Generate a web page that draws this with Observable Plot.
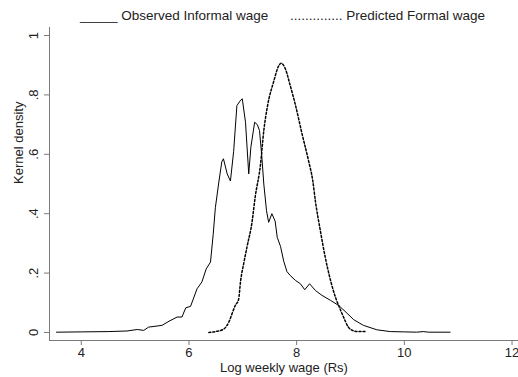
<!DOCTYPE html>
<html>
<head>
<meta charset="utf-8">
<script src="https://cdn.jsdelivr.net/npm/d3@7"></script>
<script src="https://cdn.jsdelivr.net/npm/@observablehq/plot@0.6"></script>
<style>
  html, body { margin: 0; padding: 0; background: #fff; }
  #wrap { width: 518px; height: 377px; position: relative; font-family: "Liberation Sans", Arial, sans-serif; }
  #legend { position: relative; height: 26px; font-size: 13.5px; color: #222; }
  #legend span { position: absolute; top: 8px; line-height: 15px; white-space: pre; }
</style>
</head>
<body>
<div id="wrap">
  <div id="legend">
    <span style="left:80px">_____ Observed Informal wage</span>
    <span style="left:290px">.............. Predicted Formal wage</span>
  </div>
  <div id="chart"></div>
</div>
<script>
// Observed Informal wage (solid)
const informalX = [3.54, 4.0, 4.5, 4.85, 5.04, 5.16, 5.25, 5.50, 5.63, 5.78, 5.87, 5.94, 6.03, 6.15, 6.24, 6.32, 6.40, 6.45, 6.49, 6.55, 6.61, 6.64, 6.71, 6.77, 6.83, 6.89, 6.95, 6.99, 7.05, 7.11, 7.15, 7.22, 7.27, 7.31, 7.35, 7.39, 7.44, 7.48, 7.54, 7.60, 7.64, 7.70, 7.76, 7.82, 7.88, 7.98, 8.07, 8.15, 8.24, 8.35, 8.47, 8.63, 8.78, 8.90, 9.06, 9.24, 9.49, 9.74, 10.0, 10.23, 10.35, 10.45, 10.85];
const informalY = [0.001, 0.002, 0.003, 0.005, 0.010, 0.007, 0.018, 0.024, 0.038, 0.052, 0.052, 0.083, 0.088, 0.147, 0.170, 0.214, 0.237, 0.330, 0.420, 0.500, 0.575, 0.585, 0.534, 0.510, 0.610, 0.764, 0.780, 0.787, 0.708, 0.534, 0.624, 0.708, 0.700, 0.680, 0.600, 0.500, 0.410, 0.371, 0.400, 0.375, 0.320, 0.290, 0.240, 0.205, 0.192, 0.175, 0.164, 0.144, 0.164, 0.141, 0.125, 0.108, 0.091, 0.071, 0.043, 0.024, 0.009, 0.003, 0.002, 0.001, 0.003, 0.001, 0.001];

// Predicted Formal wage (dotted)
const formalX = [6.37, 6.52, 6.65, 6.74, 6.80, 6.86, 6.92, 6.96, 7.02, 7.08, 7.17, 7.23, 7.33, 7.39, 7.46, 7.57, 7.67, 7.71, 7.79, 7.88, 7.98, 8.10, 8.22, 8.30, 8.35, 8.44, 8.53, 8.63, 8.72, 8.78, 8.87, 8.96, 9.05, 9.12, 9.27];
const formalY = [0.000, 0.004, 0.012, 0.035, 0.063, 0.091, 0.110, 0.175, 0.235, 0.290, 0.370, 0.456, 0.568, 0.680, 0.764, 0.843, 0.899, 0.907, 0.888, 0.832, 0.764, 0.669, 0.579, 0.510, 0.440, 0.343, 0.254, 0.175, 0.119, 0.091, 0.052, 0.018, 0.006, 0.003, 0.003];

const xTicks = [4, 6, 8, 10, 12];
const yTicks = [0, 0.2, 0.4, 0.6, 0.8, 1];
const yTickLabels = ["0", ".2", ".4", ".6", ".8", "1"];

const informal = informalX.map((x, i) => ({x, y: informalY[i]}));
const formal = formalX.map((x, i) => ({x, y: formalY[i]}));

const axisColor = "#7a7a7a";
const textColor = "#222";

const chart = Plot.plot({
  width: 518,
  height: 351,
  marginTop: 1,
  marginLeft: 49,
  marginRight: 0,
  marginBottom: 37,
  style: {fontFamily: "'Liberation Sans', Arial, sans-serif", fontSize: "13px", color: textColor, background: "#fff"},
  x: {domain: [3.41, 12.12]},
  y: {domain: [-0.027, 1.027]},
  marks: [
    Plot.axisX({ticks: xTicks, tickSize: 5, tickPadding: 2, stroke: axisColor, fill: textColor, label: null, fontSize: 13}),
    Plot.axisY({ticks: yTicks, tickFormat: (d, i) => yTickLabels[i], tickSize: 5, tickPadding: 7, tickRotate: -90, stroke: axisColor, fill: textColor, label: null, fontSize: 13}),
    Plot.text(["Log weekly wage (Rs)"], {frameAnchor: "bottom", dy: 31, fill: textColor, fontSize: 13}),
    Plot.text(["Kernel density"], {frameAnchor: "left", dx: -31, rotate: -90, fill: textColor, fontSize: 13}),
    Plot.frame({anchor: "left", stroke: axisColor}),
    Plot.frame({anchor: "bottom", stroke: axisColor}),
    Plot.line(informal, {x: "x", y: "y", stroke: "#000", strokeWidth: 1}),
    Plot.line(formal, {x: "x", y: "y", stroke: "#000", strokeWidth: 1.5, strokeDasharray: "2,2", curve: "monotone-x"})
  ]
});
document.getElementById("chart").appendChild(chart);
</script>
</body>
</html>
